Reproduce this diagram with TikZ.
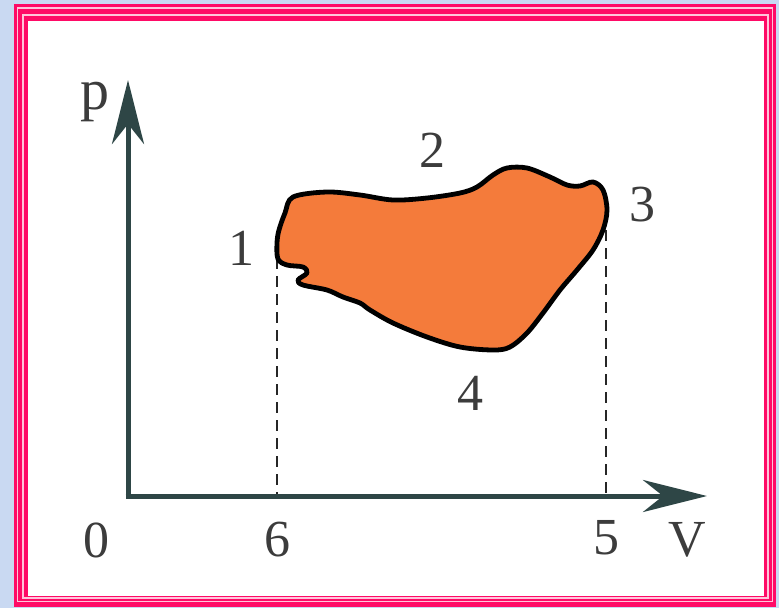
\documentclass[tikz,border=0pt]{standalone}
\usepackage{fontspec}
\setmainfont{Liberation Serif}
\usetikzlibrary{arrows.meta, positioning}
\definecolor{bgblue}{HTML}{C9D9F2}
\definecolor{framepink}{HTML}{FF0A66}
\definecolor{framelight}{HTML}{FFC4DA}
\definecolor{axisgray}{HTML}{2E4646}
\definecolor{blobfill}{HTML}{F47B3B}
\definecolor{labelgray}{HTML}{3C3C3C}
\tikzset{
  axis/.style={
    line width=5pt, color=axisgray,
    -{Stealth[length=64pt, width=32pt, inset=20pt]},
  },
  guide/.style={line width=1.8pt, color=black!85, dash pattern=on 11pt off 7pt},
  blob/.style={line width=4.8pt, draw=black, fill=blobfill, line join=round},
  lbl/.style={font=\fontsize{52}{56}\selectfont, text=labelgray, inner sep=0pt},
  axlbl/.style={lbl, font=\fontsize{58}{62}\selectfont},
}

\begin{document}
\begin{tikzpicture}[x=1pt, y=-1pt]

  \useasboundingbox (0,0) rectangle (779,608);

  % background and frame
  \fill[bgblue] (0,0) rectangle (779,608);
  \fill[framepink] (14,4) rectangle (776,607);
  \draw[framelight, line width=1.5pt] (17.5,8) rectangle (772.5,601.5);
  \draw[framelight, line width=2pt] (23,15) rectangle (767.5,598);
  \fill[white] (28,21) rectangle (764,596);

  % points
  \coordinate (O) at (128,496);
  \coordinate (ptip) at (128,80);
  \coordinate (Vtip) at (707,496);
  \coordinate (p1) at (277,258);
  \coordinate (p3) at (606,230);
  \coordinate (x6) at (p1 |- O);
  \coordinate (x5) at (p3 |- O);

  % guides
  \draw[guide] (p1) -- (x6);
  \draw[guide] (p3) -- (x5);

  % cycle
  \draw[blob] plot[smooth cycle, tension=0.55] coordinates {
    (293,197) (327,192) (360,195) (393,200) (427,198) (460,193) (477,187)
    (493,175) (507,168) (527,168) (550,177) (567,185) (580,186) (593,182)
    (603,190) (607,210) (603,230) (593,250) (577,270) (560,290) (543,313)
    (527,333) (510,347) (493,350) (460,347) (427,337) (393,323) (370,310)
    (360,303) (343,297) (327,290) (303,285) (298,280) (307,273) (303,267)
    (287,265) (278,259) (277,243) (279,230) (285,213)};

  % axes
  \draw[axis] ([yshift=2.5pt]O) -- (ptip);
  \draw[axis] ([xshift=-2.5pt]O) -- (Vtip);

  % labels
  \node[axlbl] (lp) at (95,102) {p};
  \node[lbl] (lV) at (687,540) {V};
  \node[lbl] (l0) at (96,540) {0};
  \node[lbl] (l6) at (277,540) {6};
  \node[lbl] (l5) at (606,538) {5};
  \node[lbl] (l1) at (241,248) {1};
  \node[lbl] (l2) at (432,150) {2};
  \node[lbl] (l3) at (642,205) {3};
  \node[lbl] (l4) at (470,393) {4};

\end{tikzpicture}
\end{document}
